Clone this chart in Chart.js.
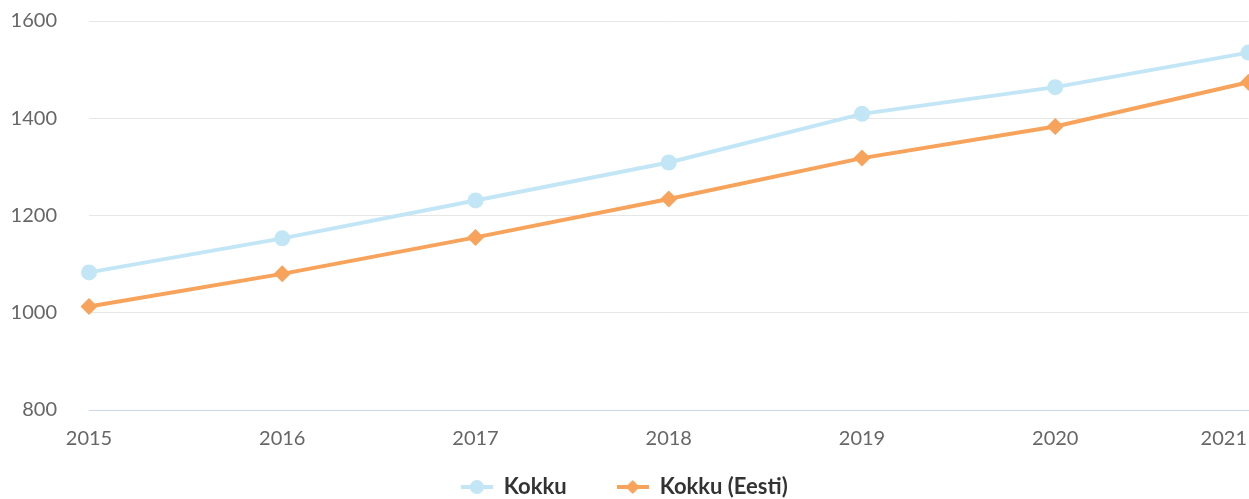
<!DOCTYPE html>
<html>
<head>
<meta charset="utf-8">
<script src="https://cdn.jsdelivr.net/npm/chart.js@4.4.1/dist/chart.umd.min.js"></script>
<style>
  html, body { margin: 0; padding: 0; background: #fff; overflow: hidden; }
  #wrap { position: relative; width: 1249px; height: 508px; }
</style>
</head>
<body>
<div id="wrap"><canvas id="chart"></canvas></div>
<script>
const years = ["2015", "2016", "2017", "2018", "2019", "2020", "2021"];
const kokku = [1083, 1153, 1231, 1309, 1409, 1464, 1535];
const kokkuEesti = [1013, 1080, 1155, 1234, 1318, 1383, 1474];
const yTicks = [800, 1000, 1200, 1400, 1600];

const blue = "#c3e6f6";
const orange = "#f7a35c";

// legend symbol: short line with the marker on it
function legendIcon(color, shape) {
  const c = document.createElement("canvas");
  c.width = 32;
  c.height = 16;
  const g = c.getContext("2d");
  g.strokeStyle = color;
  g.lineWidth = 4;
  g.beginPath();
  g.moveTo(0, 8);
  g.lineTo(32, 8);
  g.stroke();
  g.fillStyle = color;
  g.beginPath();
  if (shape === "circle") {
    g.arc(16, 8, 7, 0, Math.PI * 2);
  } else {
    g.moveTo(16, 1); g.lineTo(23, 8); g.lineTo(16, 15); g.lineTo(9, 8);
    g.closePath();
  }
  g.fill();
  return c;
}
const icons = [legendIcon(blue, "circle"), legendIcon(orange, "diamond")];

// x labels: centred on the tick, but kept inside the visible page
const xLabels = {
  id: "xLabels",
  afterDraw(chart) {
    const scale = chart.scales.x;
    const ctx = chart.ctx;
    ctx.save();
    ctx.font = "20px Lato";
    ctx.fillStyle = "#666666";
    ctx.textAlign = "center";
    ctx.textBaseline = "middle";
    years.forEach((label, i) => {
      const w = ctx.measureText(label).width;
      let x = scale.getPixelForTick(i);
      x = Math.max(w / 2 + 2, Math.min(x, 1249 - w / 2 - 2));
      ctx.fillText(label, x, scale.top + 29);
    });
    ctx.restore();
  }
};

const ctx = document.getElementById("chart").getContext("2d");
new Chart(ctx, {
  type: "line",
  data: {
    labels: years,
    datasets: [
      {
        label: "Kokku",
        data: kokku,
        borderColor: blue,
        backgroundColor: blue,
        borderWidth: 4,
        pointStyle: "circle",
        pointRadius: 8,
        pointBorderWidth: 0,
        tension: 0
      },
      {
        label: "Kokku (Eesti)",
        data: kokkuEesti,
        borderColor: orange,
        backgroundColor: orange,
        borderWidth: 4,
        pointStyle: "rectRot",
        pointRadius: 8.5,
        pointBorderWidth: 0,
        tension: 0
      }
    ]
  },
  options: {
    responsive: true,
    maintainAspectRatio: false,
    animation: false,
    layout: { autoPadding: false, padding: { top: 0, right: 0.5, left: 0, bottom: 0 } },
    plugins: {
      tooltip: { enabled: false },
      legend: {
        position: "bottom",
        labels: {
          usePointStyle: true,
          pointStyleWidth: 32,
          padding: 50,
          color: "#333333",
          font: { family: "Lato", size: 22, weight: "bold" },
          generateLabels(chart) {
            const items = Chart.defaults.plugins.legend.labels.generateLabels(chart);
            items.forEach((it, i) => { it.pointStyle = icons[i]; });
            return items;
          }
        }
      }
    },
    scales: {
      x: {
        grid: { display: false },
        border: { color: "#ccd6eb", width: 1 },
        ticks: { display: false },
        afterFit(scale) {
          scale.paddingRight = 0;
          scale.paddingLeft = 0;
          scale.height = 16;
        }
      },
      y: {
        min: 800,
        max: 1600,
        afterBuildTicks(scale) {
          scale.ticks = yTicks.map(v => ({ value: v }));
        },
        grid: { color: "#e6e6e6", lineWidth: 1, drawTicks: false },
        border: { display: false },
        ticks: {
          padding: 32,
          color: "#666666",
          font: { family: "Lato", size: 20 },
          callback: v => String(v)
        },
        afterFit(scale) {
          scale.width = 89;
          scale.paddingTop = 21;
          scale.paddingBottom = 0;
        }
      }
    }
  },
  plugins: [xLabels]
});
</script>
</body>
</html>
